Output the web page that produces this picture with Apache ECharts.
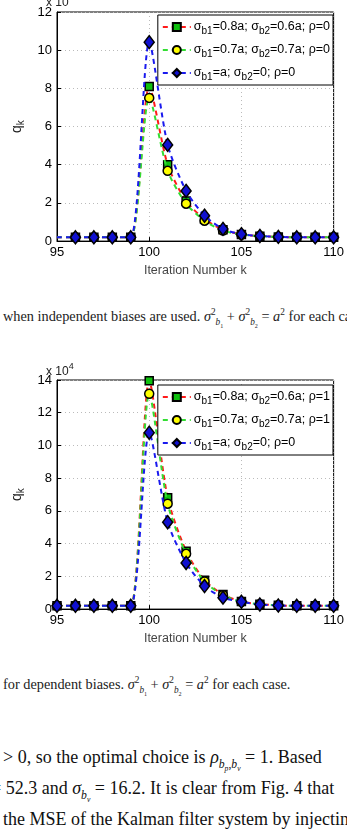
<!DOCTYPE html>
<html>
<head>
<meta charset="utf-8">
<script src="https://cdn.jsdelivr.net/npm/echarts@6/dist/echarts.min.js"></script>
<style>
  body { margin: 0; background: #fff; width: 347px; height: 835px; overflow: hidden; position: relative; font-family: "Liberation Serif", "DejaVu Serif", serif; }
  #chartIndep { position: absolute; left: 0; top: 0; width: 347px; height: 282px; }
  #chartDep { position: absolute; left: 0; top: 350px; width: 347px; height: 300px; }
  .cap { position: absolute; left: 3px; font-size: 14.3px; line-height: 17px; white-space: nowrap; color: #222; }
  .para { position: absolute; font-size: 18px; line-height: 31px; white-space: nowrap; color: #111; }
  sub, sup { font-size: 65%; line-height: 0; }
</style>
</head>
<body>
<div id="chartIndep"></div>
<div class="cap" style="top:308px">when independent biases are used. <i>σ</i><sup>2</sup><sub><i>b</i><sub>1</sub></sub> + <i>σ</i><sup>2</sup><sub><i>b</i><sub>2</sub></sub> = <i>a</i><sup>2</sup> for each case.</div>
<div id="chartDep"></div>
<div class="cap" style="top:676px">for dependent biases. <i>σ</i><sup>2</sup><sub><i>b</i><sub>1</sub></sub> + <i>σ</i><sup>2</sup><sub><i>b</i><sub>2</sub></sub> = <i>a</i><sup>2</sup> for each case.</div>
<div class="para" style="top:742px;left:3px">&gt; 0, so the optimal choice is <i>ρ</i><sub><i>b<sub>p</sub></i>,<i>b<sub>v</sub></i></sub> = 1. Based</div>
<div class="para" style="top:773px;left:-9px">= 52.3 and <i>σ</i><sub><i>b<sub>v</sub></i></sub> = 16.2. It is clear from Fig. 4 that</div>
<div class="para" style="top:804px;left:3px">the MSE of the Kalman filter system by injecting</div>
<script>
// iteration numbers on the x axis
const iterK = [95, 96, 97, 98, 99, 100, 101, 102, 103, 104, 105, 106, 107, 108, 109, 110];

// independent biases (x 10)
const indep08 = [0.2, 0.2, 0.2, 0.2, 0.2, 8.1, 4.0, 2.1, 1.15, 0.6, 0.35, 0.26, 0.22, 0.2, 0.2, 0.2];
const indep07 = [0.2, 0.2, 0.2, 0.2, 0.2, 7.5, 3.68, 1.96, 1.07, 0.55, 0.35, 0.25, 0.22, 0.2, 0.2, 0.2];
const indepA = [0.2, 0.2, 0.2, 0.2, 0.2, 10.42, 5.04, 2.63, 1.33, 0.64, 0.36, 0.27, 0.22, 0.2, 0.2, 0.2];

// dependent biases (x 10^4)
const dep08 = [0.2, 0.2, 0.2, 0.2, 0.2, 13.96, 6.8, 3.54, 1.77, 0.89, 0.46, 0.3, 0.23, 0.2, 0.2, 0.2];
const dep07 = [0.2, 0.2, 0.2, 0.2, 0.2, 13.16, 6.44, 3.38, 1.69, 0.85, 0.45, 0.3, 0.23, 0.2, 0.2, 0.2];
const depA = [0.2, 0.2, 0.2, 0.2, 0.2, 10.78, 5.31, 2.82, 1.41, 0.7, 0.45, 0.28, 0.22, 0.2, 0.2, 0.2];

const yTicksIndep = [0, 12, 2];
const yTicksDep = [0, 14, 2];

document.addEventListener("DOMContentLoaded", function () {
  initChart("chartIndep", {
    names: ["σb1=0.8a; σb2=0.6a; ρ=0", "σb1=0.7a; σb2=0.7a; ρ=0", "σb1=a; σb2=0; ρ=0"],
    values: [indep08, indep07, indepA],
    ticks: yTicksIndep,
    gridTop: 12,
    gridBottom: 39,
    legendTop: 15,
    scaleTop: -3,
    scaleText: "x 10",
    skipFirstMarker: true,
  });
  initChart("chartDep", {
    names: ["σb1=0.8a; σb2=0.6a; ρ=1", "σb1=0.7a; σb2=0.7a; ρ=1", "σb1=a; σb2=0; ρ=0"],
    values: [dep08, dep07, depA],
    ticks: yTicksDep,
    gridTop: 30,
    gridBottom: 38,
    legendTop: 35,
    scaleTop: 12,
    scaleText: "x 10{e|4}",
    skipFirstMarker: false,
  });
});

function toPoints(vals, skipFirst) {
  return vals.map(function (v, i) {
    if (skipFirst && i === 0) return { value: [iterK[i], v], symbol: "none" };
    return [iterK[i], v];
  });
}

function initChart(id, cfg) {
  let chartDom = document.getElementById(id);
  let myChart = echarts.init(chartDom);

  const lineColors = ["#ff1a1a", "#33dd33", "#1a1aee"];
  const fillColors = ["#10c010", "#ffff00", "#1010d0"];
  const symbols = ["rect", "circle", "diamond"];
  const sizes = [[8, 8], 9, [10, 13]];

  let series = cfg.values.map(function (vals, i) {
    return {
      name: cfg.names[i],
      type: "line",
      data: toPoints(vals, cfg.skipFirstMarker),
      smooth: 0.25,
      symbol: symbols[i],
      symbolSize: sizes[i],
      showSymbol: true,
      lineStyle: { color: lineColors[i], width: 2, type: [5, 4] },
      itemStyle: { color: fillColors[i], borderColor: "#000", borderWidth: 1.5 },
      z: 2 + i,
    };
  });

  let option = {
    animation: false,
    backgroundColor: "#fff",
    grid: {
      left: 45,
      right: 7,
      top: cfg.gridTop,
      bottom: cfg.gridBottom,
      show: true,
      borderColor: "#000",
      borderWidth: 1,
    },
    xAxis: {
      type: "value",
      min: 95,
      max: 110,
      interval: 5,
      name: "Iteration Number k",
      nameLocation: "middle",
      nameGap: 18,
      nameTextStyle: { color: "#444", fontSize: 12.5, fontFamily: "Liberation Sans" },
      axisLine: { lineStyle: { color: "#000" } },
      axisTick: { inside: true, length: 4, lineStyle: { color: "#000" } },
      axisLabel: { color: "#000", fontSize: 13, fontFamily: "Liberation Sans", margin: 5 },
      splitLine: { show: true, lineStyle: { color: "#bbb", type: [1, 3] } },
    },
    yAxis: {
      type: "value",
      min: cfg.ticks[0],
      max: cfg.ticks[1],
      interval: cfg.ticks[2],
      name: "q{s|k}",
      nameLocation: "middle",
      nameGap: 31,
      nameTextStyle: {
        color: "#222",
        fontSize: 14,
        fontFamily: "Liberation Sans",
        lineHeight: 18,
        rich: { s: { fontSize: 10, lineHeight: 10, verticalAlign: "bottom", fontFamily: "Liberation Sans", color: "#222" } },
      },
      axisLine: { lineStyle: { color: "#000" } },
      axisTick: { inside: true, length: 4, lineStyle: { color: "#000" } },
      axisLabel: { color: "#000", fontSize: 13, fontFamily: "Liberation Sans", margin: 5 },
      splitLine: { show: true, lineStyle: { color: "#bbb", type: [1, 3] } },
    },
    legend: {
      orient: "vertical",
      right: 14,
      top: cfg.legendTop,
      data: cfg.names,
      backgroundColor: "#fff",
      borderColor: "#000",
      borderWidth: 1,
      borderRadius: 0,
      padding: [3, 3, 3, 4],
      itemGap: 5,
      itemWidth: 28,
      itemHeight: 10,
      selectedMode: false,
      formatter: function (name) {
        return name.replace(/σ(b\d)/g, "σ{s|$1}");
      },
      textStyle: {
        color: "#000",
        fontSize: 12.5,
        fontFamily: "Liberation Sans",
        lineHeight: 18,
        padding: [0, 0, 0, -2],
        rich: { s: { fontSize: 10, lineHeight: 8, verticalAlign: "bottom", fontFamily: "Liberation Sans", color: "#000" } },
      },
    },
    graphic: [
      {
        type: "text",
        left: 46,
        top: cfg.scaleTop,
        style: {
          text: cfg.scaleText,
          fill: "#222",
          font: "12px Liberation Sans",
          rich: { e: { fontSize: 9, verticalAlign: "top", lineHeight: 20, fill: "#222" } },
        },
      },
    ],
    series: series,
  };

  myChart.setOption(option);

  window.addEventListener("resize", function () {
    myChart.resize();
  });
}
</script>
</body>
</html>
